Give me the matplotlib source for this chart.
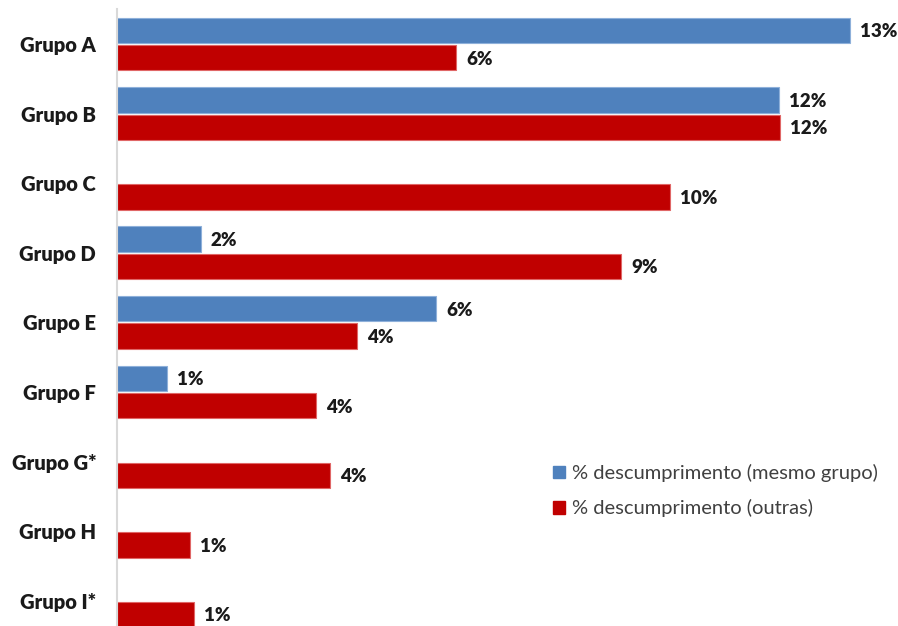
import matplotlib.pyplot as plt
import numpy as np

groups = ["Grupo A", "Grupo B", "Grupo C", "Grupo D", "Grupo E",
          "Grupo F", "Grupo G*", "Grupo H", "Grupo I*"]
# % descumprimento (mesmo grupo); None = sem barra
mesmo_grupo = [13.21, 11.93, None, 1.51, 5.75, 0.90, None, None, None]
# % descumprimento (outras)
outras = [6.11, 11.95, 9.96, 9.08, 4.32, 3.59, 3.84, 1.32, 1.39]

blue = '#4F81BD'
red = '#C00000'

plt.rcParams['font.family'] = ['Lato', 'DejaVu Sans']

fig = plt.figure(figsize=(8.98, 6.26), dpi=100, facecolor='white')
ax = fig.add_axes([117 / 898, 0, (898 - 117) / 898, (626 - 9) / 626])

y = np.arange(len(groups))
h = 0.366
off = 0.1975

for i, v in enumerate(mesmo_grupo):
    if v is None:
        continue
    ax.barh(y[i] - off, v, height=h, color=blue, edgecolor='#8EB0DA', linewidth=0.8)
    ax.text(v + 0.18, y[i] - off + 0.02, "{:.0f}%".format(v), va='center', ha='left',
            fontsize=13.5, fontweight='heavy', color='#1a1a1a')

for i, v in enumerate(outras):
    ax.barh(y[i] + off, v, height=h, color=red, edgecolor='#E06666', linewidth=0.8)
    ax.text(v + 0.18, y[i] + off + 0.02, "{:.0f}%".format(v), va='center', ha='left',
            fontsize=13.5, fontweight='heavy', color='#1a1a1a')

ax.set_xlim(0, (898 - 117) / 55.5)
ax.set_ylim(8.362, -0.503)
ax.set_yticks(y)
ax.set_yticklabels(groups, fontsize=14.5, fontweight='heavy', color='#1a1a1a')
ax.tick_params(axis='y', length=0, pad=15)
ax.set_xticks([])
for s in ['top', 'right', 'bottom']:
    ax.spines[s].set_visible(False)
ax.spines['left'].set_color('#D9D9D9')
ax.spines['left'].set_linewidth(1.5)

handles = [plt.Rectangle((0, 0), 1, 1, color=blue), plt.Rectangle((0, 0), 1, 1, color=red)]
leg = fig.legend(handles, ["% descumprimento (mesmo grupo)", "% descumprimento (outras)"],
                 loc='upper left', bbox_to_anchor=(535 / 898, 1 - 446 / 626),
                 frameon=False, fontsize=14.5, handlelength=0.6, handleheight=0.6,
                 handletextpad=0.35, labelspacing=0.85)
for t in leg.get_texts():
    t.set_color('#404040')

fig.savefig('out.png', dpi=100, facecolor='white')
